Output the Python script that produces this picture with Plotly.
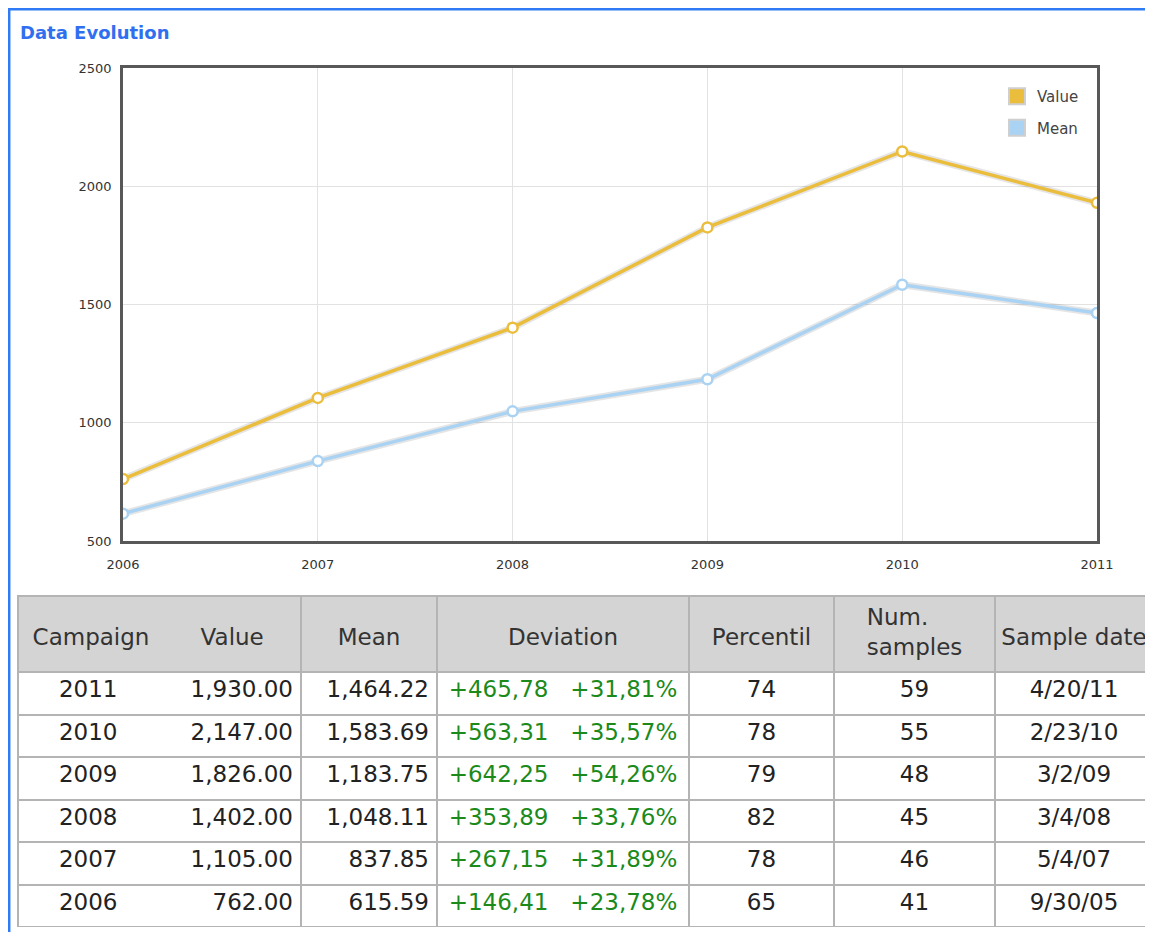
import plotly.graph_objects as go

# ---- data ----
years = [2006, 2007, 2008, 2009, 2010, 2011]
values = [762.00, 1105.00, 1402.00, 1826.00, 2147.00, 1930.00]
means = [615.59, 837.85, 1048.11, 1183.75, 1583.69, 1464.22]
y_ticks = [500, 1000, 1500, 2000, 2500]

tbl_campaign = ["2011", "2010", "2009", "2008", "2007", "2006"]
tbl_value = ["1,930.00", "2,147.00", "1,826.00", "1,402.00", "1,105.00", "762.00"]
tbl_mean = ["1,464.22", "1,583.69", "1,183.75", "1,048.11", "837.85", "615.59"]
tbl_dev_abs = ["+465,78", "+563,31", "+642,25", "+353,89", "+267,15", "+146,41"]
tbl_dev_pct = ["+31,81%", "+35,57%", "+54,26%", "+33,76%", "+31,89%", "+23,78%"]
tbl_percentil = ["74", "78", "79", "82", "78", "65"]
tbl_samples = ["59", "55", "48", "45", "46", "41"]
tbl_date = ["4/20/11", "2/23/10", "3/2/09", "3/4/08", "5/4/07", "9/30/05"]
tbl_headers = ["Campaign", "Value", "Mean", "Deviation", "Percentil", "Num.<br>samples", "Sample date"]

GOLD = "#ebbd3c"
BLUE = "#a9d2f3"
BODY = 8                      # page body margin
W, H = 1153 - BODY, 932 - BODY
FONT = "DejaVu Sans"
FS = 23
NB = "\u00a0"


def px(x):  # page x -> paper fraction
    return (x - BODY) / W


def py(y):  # page y -> paper fraction
    return 1 - (y - BODY) / H


def mid_line(txt):
    # single-line header text, dropped to the vertical middle of the header cell
    return NB + "<br><sup><span style='font-size:%dpx'>%s</span></sup>" % (FS, txt)


fig = go.Figure()

# soft shadows under the lines
for ys in (means, values):
    fig.add_trace(go.Scatter(x=years, y=ys, mode="lines",
                             line=dict(color="rgba(0,0,0,0.10)", width=7),
                             showlegend=False, hoverinfo="skip"))

fig.add_trace(go.Scatter(x=years, y=means, mode="lines+markers", name="Mean",
                         line=dict(color=BLUE, width=3.5),
                         marker=dict(symbol="circle", size=10, color="white",
                                     line=dict(color=BLUE, width=2.5)),
                         showlegend=False))
fig.add_trace(go.Scatter(x=years, y=values, mode="lines+markers", name="Value",
                         line=dict(color=GOLD, width=3.5),
                         marker=dict(symbol="circle", size=10, color="white",
                                     line=dict(color=GOLD, width=2.5)),
                         showlegend=False))

# legend swatches
fig.add_trace(go.Scatter(x=[None], y=[None], mode="markers", name="Value", legendgroup="a",
                         marker=dict(symbol="square", size=20, color=GOLD,
                                     line=dict(color="#cfcfcf", width=2))))
fig.add_trace(go.Scatter(x=[None], y=[None], mode="markers", name="Mean", legendgroup="b",
                         marker=dict(symbol="square", size=20, color=BLUE,
                                     line=dict(color="#cfcfcf", width=2))))

# table (Campaign + Value share one bordered cell, Deviation holds two figures)
camp_val = [c + NB * (10 + (3 * (8 - len(v))) // 2) + v for c, v in zip(tbl_campaign, tbl_value)]
dev_text = [a + NB * 3 + b for a, b in zip(tbl_dev_abs, tbl_dev_pct)]
head = [mid_line(tbl_headers[0] + NB * 7 + tbl_headers[1] + NB * 4)] + \
       [mid_line(h) if "<br>" not in h else h for h in tbl_headers[2:]]

fig.add_trace(go.Table(
    domain=dict(x=[px(18), 1.0], y=[py(927), py(596)]),
    columnwidth=[283, 136, 252, 145, 161, 158],
    header=dict(values=head,
                fill_color="#d4d4d4",
                line=dict(color="#b4b4b4", width=2),
                align=["right", "center", "center", "center", "center", "center"],
                font=dict(family=FONT, size=FS, color="#333333"),
                height=76),
    cells=dict(values=[camp_val, tbl_mean, dev_text,
                       tbl_percentil, tbl_samples, tbl_date],
               fill_color="white",
               line=dict(color="#b4b4b4", width=2),
               align=["right", "right", "center", "center", "center", "center"],
               font=dict(family=FONT, size=FS,
                         color=["#222222", "#222222", "#1b8a1b",
                                "#222222", "#222222", "#222222"]),
               height=42.5),
))

fig.update_layout(
    width=W, height=H,
    margin=dict(l=0, r=0, t=0, b=0, autoexpand=False),
    paper_bgcolor="white",
    plot_bgcolor="white",
    font=dict(family=FONT, color="#333333"),
    title=dict(text="<b>Data Evolution</b>", x=px(20), xanchor="left",
               y=py(33), yanchor="middle",
               font=dict(family=FONT, size=18, color="#2f6ff0")),
    xaxis=dict(domain=[px(123), px(1097)], range=[2006, 2011], tickvals=years,
               showgrid=True, gridcolor="#e2e2e2", gridwidth=1,
               showline=True, mirror=True, linecolor="#585858", linewidth=2.5,
               zeroline=False, ticks="", ticklabelstandoff=10,
               tickfont=dict(family=FONT, size=13, color="#333333")),
    yaxis=dict(domain=[py(541), py(68)], range=[500, 2500], tickvals=y_ticks,
               showgrid=True, gridcolor="#e2e2e2", gridwidth=1,
               showline=True, mirror=True, linecolor="#585858", linewidth=2.5,
               zeroline=False, ticks="", ticklabelstandoff=6,
               tickfont=dict(family=FONT, size=13, color="#333333")),
    legend=dict(x=px(997), y=py(80), xanchor="left", yanchor="top",
                bgcolor="rgba(0,0,0,0)", tracegroupgap=9,
                traceorder="grouped",
                font=dict(family=FONT, size=15, color="#444444")),
    shapes=[dict(type="rect", xref="paper", yref="paper",
                 x0=1.2 / W, x1=1.02, y0=-0.02, y1=1 - 1.2 / H,
                 line=dict(color="#2f7bf5", width=2.5), fillcolor="rgba(0,0,0,0)",
                 layer="above")],
)

fig.write_html("out.html")
